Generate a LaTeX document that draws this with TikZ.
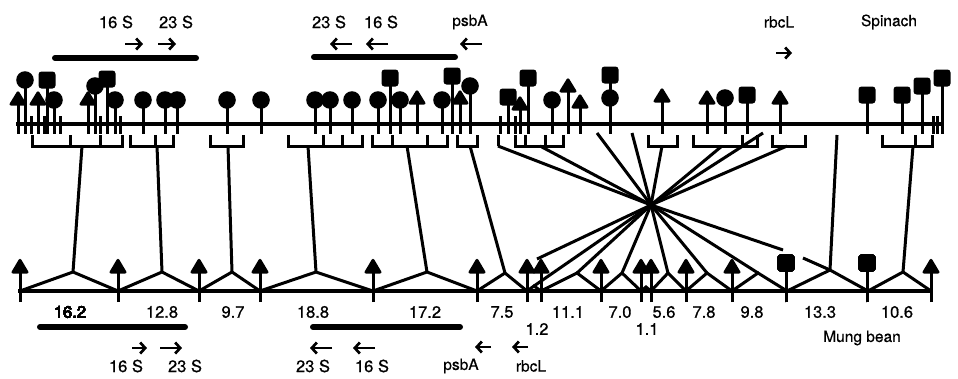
\documentclass[tikz,border=0pt]{standalone}
\usepackage{fontspec}
\setmainfont{TeX Gyre Heros}
\newfontfamily\lblfont[FakeBold=0.8]{TeX Gyre Heros}
\newfontfamily\slblfont[FakeBold=0.4]{TeX Gyre Heros}
\usetikzlibrary{arrows.meta}
\newcommand\pinC[2]{\draw[stem] (#1,#2) -- (#1,134); \fill (#1,#2) circle (8.8pt);}
\newcommand\pinS[2]{\draw[stem] (#1,#2) -- (#1,134); \fill[rounded corners=3pt] ({#1-8.5},{#2-8.5}) rectangle ({#1+8.5},{#2+8.5});}
\newcommand\pinT[2]{\draw[stem] (#1,#2) -- (#1,134); \fill[rounded corners=2.5pt] ({#1-9.5},{#2+6.5}) -- (#1,{#2-9}) -- ({#1+9.5},{#2+6.5}) -- cycle;}
\newcommand\bpinT[1]{\draw[stem] (#1,302) -- (#1,268); \fill[rounded corners=2.5pt] ({#1-9.5},273.5) -- (#1,257.5) -- ({#1+9.5},273.5) -- cycle;}
\newcommand\bpinS[1]{\draw[stem] (#1,302) -- (#1,263); \fill[rounded corners=3pt] ({#1-8.5},254.5) rectangle ({#1+8.5},271.5);}
\newcommand\brkt[2]{\draw[conn] (#1,135) -- (#1,146) -- (#2,146) -- (#2,135);}
\newcommand\tck[1]{\draw[conn] (#1,135) -- (#1,146);}
\begin{document}
\begin{tikzpicture}[x=1pt,y=-1pt,
  backbone/.style={line width=3.6pt},
  conn/.style={line width=3pt},
  stem/.style={line width=3pt},
  bar/.style={line width=6pt,line cap=round},
  lbl/.style={font=\lblfont\fontsize{16.5}{18}\selectfont,inner sep=0pt},
  slbl/.style={font=\slblfont\fontsize{15.5}{17}\selectfont,inner sep=0pt},
  rarr/.style={line width=2.7pt,-{Straight Barb[length=5pt,width=11pt]}}]
\useasboundingbox (0,0) rectangle (958,378);
% ---------- top labels ----------
\node[lbl] (t16a) at (116,22) {16 S};
\node[lbl] (t23a) at (176,22) {23 S};
\node[lbl] (t23b) at (329,22) {23 S};
\node[lbl] (t16b) at (381,22) {16 S};
\node[slbl] (tpsb) at (470,22) {psbA};
\node[slbl] (trbc) at (779,22) {rbcL};
\node[slbl] (tspi) at (889,22) {Spinach};
\coordinate (ta1s) at (125,44); \coordinate (ta1e) at (143,44);
\coordinate (ta2s) at (158,44); \coordinate (ta2e) at (176,44);
\coordinate (ta3s) at (352,44); \coordinate (ta3e) at (330,44);
\coordinate (ta4s) at (388,44); \coordinate (ta4e) at (366,44);
\coordinate (ta5s) at (482,44); \coordinate (ta5e) at (460,44);
\coordinate (ta6s) at (776,53); \coordinate (ta6e) at (792,53);
\foreach \a in {1,...,6} \draw[rarr] (ta\a s) -- (ta\a e);
\coordinate (tb1s) at (55,58); \coordinate (tb1e) at (196,58);
\coordinate (tb2s) at (314,57); \coordinate (tb2e) at (455,57);
\draw[bar] (tb1s) -- (tb1e);
\draw[bar] (tb2s) -- (tb2e);
% ---------- top backbone ----------
\coordinate (tl) at (16,124); \coordinate (tr) at (942,124);
\draw[backbone] (tl) -- (tr);
% top pins
\pinT{18}{99} \pinC{25}{80} \pinT{38}{99} \pinS{47}{80} \pinC{54}{100}
\pinT{88}{99} \pinC{95}{86} \pinS{107}{79} \pinC{115}{100}
\pinC{143}{100} \pinC{165}{100} \pinC{177}{100} \pinC{227}{100} \pinC{261}{100}
\pinC{315}{100} \pinC{330}{100} \pinC{352}{100} \pinC{378}{100} \pinS{390}{78}
\pinC{400}{100} \pinT{417}{98} \pinC{442}{100} \pinS{452}{76} \pinT{460}{98} \pinC{470}{86}
\pinS{508}{97} \pinT{520}{104} \pinS{528}{78} \pinC{552}{100} \pinT{568}{86} \pinT{580}{102}
\pinS{610}{75} \pinC{610}{98} \pinT{662}{96} \pinT{707}{98} \pinC{725}{98} \pinS{747}{95}
\pinT{780}{98} \pinS{867}{95} \pinS{902}{95} \pinS{922}{86} \pinS{942}{78}
\foreach \s in {31,44,60,100,120,500,515,933,937} \draw[stem] (\s,116) -- (\s,134);
% ---------- brackets ----------
\brkt{32}{122} \tck{70} \tck{100}
\brkt{130}{173} \tck{155}
\brkt{210}{243}
\brkt{288}{362} \tck{323} \tck{342}
\brkt{372}{447} \tck{392} \tck{427}
\brkt{457}{477}
\tck{498}
\brkt{515}{563} \tck{525} \tck{545}
\brkt{648}{677}
\brkt{693}{757} \tck{742}
\brkt{772}{805}
\brkt{882}{932} \tck{915}
% bracket stems
\coordinate (s1) at (82,146);  \coordinate (s2) at (157,146);
\coordinate (s3) at (228,146); \coordinate (s4) at (308,146);
\coordinate (s5) at (407,146); \coordinate (s6) at (470,146);
\coordinate (s7) at (837,135); \coordinate (s8) at (913,146);
% crossing
\coordinate (X) at (651,205);
\coordinate (c1) at (498,146); \coordinate (c2) at (540,146);
\coordinate (c3) at (597,133); \coordinate (c4) at (632,133);
\coordinate (c5) at (662,146); \coordinate (c6) at (722,146);
\coordinate (c7) at (763,133); \coordinate (c8) at (787,146);
\foreach \c in {1,...,8} \draw[conn] (c\c) -- (X);
% ---------- bottom backbone ----------
\coordinate (bl) at (18,291); \coordinate (br) at (932,291);
\draw[backbone] (bl) -- (br);
% apexes of segments
\coordinate (a1) at (73,272);  \coordinate (a2) at (162,272);
\coordinate (a3) at (232,272); \coordinate (a4) at (316,272);
\coordinate (a5) at (427,272); \coordinate (a6) at (505,273);
\coordinate (a7) at (534,286); \coordinate (a8) at (577,273);
\coordinate (a9) at (622,273); \coordinate (a10) at (646,287);
\coordinate (a11) at (668,273); \coordinate (a12) at (707,273);
\coordinate (a13) at (758,273); \coordinate (a14) at (830,270);
\coordinate (a15) at (903,272);
\foreach \l/\a/\r in {20/1/118,118/2/199,199/3/260,260/4/373,373/5/477,477/6/527,527/7/541,541/8/601,601/9/641,641/10/651,651/11/686,686/12/732,732/13/787,787/14/868,868/15/931}
  \draw[conn] (\l,291) -- (a\a) -- (\r,291);
% top-to-bottom connectors
\draw[conn] (s1) -- (a1); \draw[conn] (s2) -- (a2); \draw[conn] (s3) -- (a3);
\draw[conn] (s4) -- (a4); \draw[conn] (s5) -- (a5); \draw[conn] (s6) -- (a6);
\draw[conn] (s7) -- (a14); \draw[conn] (s8) -- (a15);
% crossing to bottom
\coordinate (x1) at (537,259);
\coordinate (x8) at (783,250); \coordinate (x8b) at (803,258);
\draw[conn] (X) -- (x1);
\draw[conn] (X) -- (a7); \draw[conn] (X) -- (a8); \draw[conn] (X) -- (a9);
\draw[conn] (X) -- (a11); \draw[conn] (X) -- (a12); \draw[conn] (X) -- (a13);
\draw[conn] (X) -- (x8); \draw[conn] (x8b) -- (a14);
\fill (X) circle (4pt);
% bottom pins
\foreach \p in {20,118,199,260,373,477,527,541,601,641,651,686,732,931} \bpinT{\p}
\bpinS{786} \bpinS{867}
% ---------- bottom labels ----------
\node[lbl] (n1) at (70,312) {16.2};
\node[lbl] (n2) at (162,312) {12.8};
\node[lbl] (n3) at (233,312) {9.7};
\node[lbl] (n4) at (313,312) {18.8};
\node[lbl] (n5) at (425,312) {17.2};
\node[lbl] (n6) at (502,312) {7.5};
\node[lbl] (n7) at (568,312) {11.1};
\node[lbl] (n8) at (620,312) {7.0};
\node[lbl] (n9) at (664,312) {5.6};
\node[lbl] (n10) at (704,312) {7.8};
\node[lbl] (n11) at (752,312) {9.8};
\node[lbl] (n12) at (820,312) {13.3};
\node[lbl] (n13) at (897,312) {10.6};
\node[lbl] (n14) at (537,329) {1.2};
\node[lbl] (n15) at (647,329) {1.1};
\node[slbl] (mung) at (862,338) {Mung bean};
\coordinate (bb1s) at (40,327); \coordinate (bb1e) at (185,327);
\coordinate (bb2s) at (313,327); \coordinate (bb2e) at (460,327);
\draw[bar] (bb1s) -- (bb1e);
\draw[bar] (bb2s) -- (bb2e);
\coordinate (ba1s) at (132,348); \coordinate (ba1e) at (147,348);
\coordinate (ba2s) at (160,348); \coordinate (ba2e) at (182,348);
\coordinate (ba3s) at (332,348); \coordinate (ba3e) at (310,348);
\coordinate (ba4s) at (375,348); \coordinate (ba4e) at (353,348);
\coordinate (ba5s) at (491,347); \coordinate (ba5e) at (475,347);
\coordinate (ba6s) at (528,347); \coordinate (ba6e) at (512,347);
\foreach \a in {1,...,6} \draw[rarr] (ba\a s) -- (ba\a e);
\node[lbl] (b16a) at (126,366) {16 S};
\node[lbl] (b23a) at (185,366) {23 S};
\node[lbl] (b23b) at (313,366) {23 S};
\node[lbl] (b16b) at (372,366) {16 S};
\node[slbl] (bpsb) at (461,366) {psbA};
\node[slbl] (brbc) at (531,366) {rbcL};
\end{tikzpicture}
\end{document}
